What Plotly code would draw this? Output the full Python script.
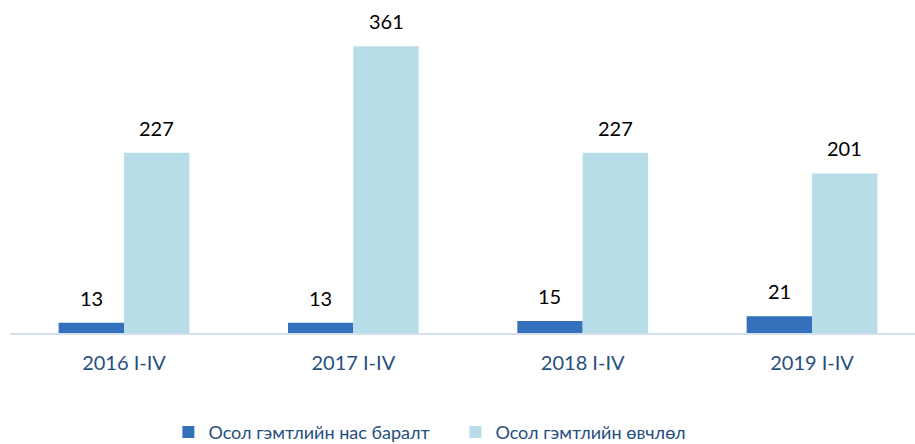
import plotly.graph_objects as go

categories = ["2016 I-IV", "2017 I-IV", "2018 I-IV", "2019 I-IV"]
deaths = [13, 13, 15, 21]
injuries = [227, 361, 227, 201]
series_names = ["Осол гэмтлийн нас баралт", "Осол гэмтлийн өвчлөл"]

x = list(range(len(categories)))

fig = go.Figure()
fig.add_trace(go.Bar(x=x, y=deaths, name=series_names[0],
                     marker=dict(color="#3570BD", line=dict(width=0))))
fig.add_trace(go.Bar(x=x, y=injuries, name=series_names[1],
                     marker=dict(color="#B7DDE8", line=dict(width=0))))

off = 0.1435
for i, v in enumerate(deaths):
    fig.add_annotation(x=x[i] - off, y=v, text=str(v), showarrow=False,
                       yshift=25, font=dict(size=20, color="#000000"))
for i, v in enumerate(injuries):
    fig.add_annotation(x=x[i] + off, y=v, text=str(v), showarrow=False,
                       yshift=25, font=dict(size=20, color="#000000"))

fig.update_layout(
    width=915, height=444,
    margin=dict(l=10, r=0, t=10, b=111, autoexpand=False),
    plot_bgcolor="white", paper_bgcolor="white",
    barmode="group", bargap=0.43, bargroupgap=0,
    font=dict(family="Lato, Open Sans, sans-serif"),
    xaxis=dict(range=[-0.497, 3.449], tickvals=x, ticktext=categories,
               showgrid=False, zeroline=False, showline=True, automargin=False,
               linecolor="#D5E0EE", linewidth=2, ticks="", ticklabelstandoff=11,
               tickfont=dict(size=20, color="#264F80")),
    yaxis=dict(range=[0, 406.8], visible=False, automargin=False),
    legend=dict(orientation="h", x=0.175, xanchor="left", y=-0.25, yanchor="top",
                font=dict(size=18, color="#264F80"), itemwidth=30,
                entrywidth=242, traceorder="normal"),
)

fig.write_html("out.html", config={"displayModeBar": False},
               post_script="document.body.style.margin='0';document.body.style.padding='0';")
